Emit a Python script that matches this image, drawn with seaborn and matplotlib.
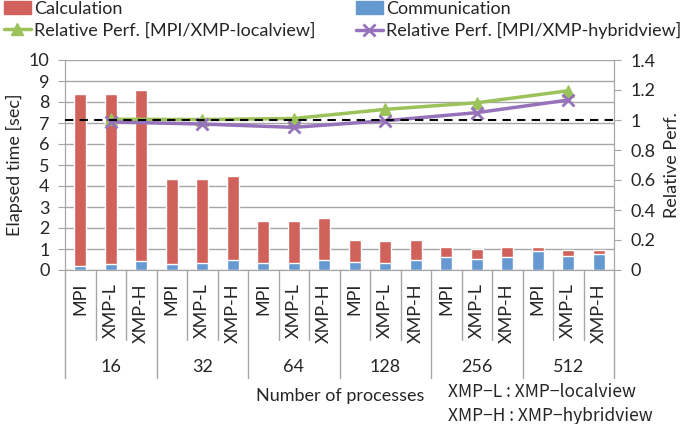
import numpy as np
import pandas as pd
import seaborn as sns
from matplotlib import pyplot as plt
from matplotlib.patches import Patch
from matplotlib.lines import Line2D

procs = ['16', '32', '64', '128', '256', '512']
impls = ['MPI', 'XMP-L', 'XMP-H']
calc = [8.17, 8.10, 8.15, 4.05, 3.99, 3.98, 2.00, 2.00, 1.98,
        1.03, 1.05, 0.95, 0.50, 0.51, 0.50, 0.21, 0.27, 0.20]
comm = [0.20, 0.27, 0.41, 0.27, 0.33, 0.48, 0.33, 0.33, 0.48,
        0.40, 0.32, 0.48, 0.60, 0.51, 0.60, 0.89, 0.68, 0.75]
rel_local = [1.005, 1.003, 1.01, 1.071, 1.115, 1.195]
rel_hybrid = [0.987, 0.973, 0.951, 0.995, 1.049, 1.133]

red = '#D0625B'
blue = '#6699CF'
green = '#9BC35A'
purple = '#9572BA'
grey = '#A6A6A6'

sns.set_style('white')
plt.rcParams['font.family'] = ['Lato', 'DejaVu Sans']
fs = 13

df = pd.DataFrame({
    'pos': np.arange(len(calc)),
    'total': np.array(calc) + np.array(comm),
    'comm': comm,
})
line_pos = [i * len(impls) + 1 for i in range(len(procs))]

fig = plt.figure(figsize=(6.85, 4.24), dpi=100)
ax = fig.add_axes([65 / 685, 1 - 270 / 424, 549 / 685, 210 / 424])
sns.barplot(data=df, x='pos', y='total', native_scale=True, width=0.4,
            color=red, saturation=1, ax=ax, zorder=2)
sns.barplot(data=df, x='pos', y='comm', native_scale=True, width=0.4,
            color=blue, saturation=1, ax=ax, zorder=3)
ax.set_xlim(-0.5, len(calc) - 0.5)
ax.set_ylim(0, 10)
ax.set_yticks(range(0, 11))
ax.yaxis.grid(True, color=grey, lw=1)
ax.set_axisbelow(True)
ax.set_xticks([])
ax.set_xlabel('')
ax.set_ylabel('Elapsed time [sec]', fontsize=fs, labelpad=4)
ax.tick_params(axis='y', labelsize=fs, left=True, length=5, color=grey, pad=6)
for s in ['left', 'bottom', 'right']:
    ax.spines[s].set_color(grey)
ax.spines['top'].set_visible(False)

ax2 = ax.twinx()
sns.lineplot(x=line_pos, y=rel_local, color=green, lw=2.5, marker='^',
             markersize=8, markeredgecolor=green, ax=ax2)
sns.lineplot(x=line_pos, y=rel_hybrid, color=purple, lw=2.5, marker='x',
             markersize=8, markeredgewidth=2, markeredgecolor=purple, ax=ax2)
ax2.axhline(1, color='black', ls='--', lw=1.5, dashes=(4, 3), zorder=3)
ax2.set_ylim(0, 1.4)
ax2.set_yticks(np.arange(0, 1.41, 0.2))
ax2.set_yticklabels(['0', '0.2', '0.4', '0.6', '0.8', '1', '1.2', '1.4'])
ax2.tick_params(axis='y', labelsize=fs, right=True, length=5, color=grey, pad=7)
ax2.set_ylabel('Relative Perf.', fontsize=fs, labelpad=6)
for s in ['left', 'bottom', 'right']:
    ax2.spines[s].set_color(grey)
ax2.spines['top'].set_visible(False)

# category axis with two levels
trans = ax.get_xaxis_transform()
for i in range(len(calc) + 1):
    low = -0.514 if i % len(impls) == 0 else -0.333
    ax.plot([i - 0.5, i - 0.5], [0, low], color=grey, lw=1,
            transform=trans, clip_on=False)
for i in range(len(calc)):
    ax.text(i, -0.062, impls[i % len(impls)], rotation=90, ha='center',
            va='top', fontsize=fs, transform=trans)
for g, p in enumerate(procs):
    ax.text(g * len(impls) + 1, -0.462, p, ha='center', va='center',
            fontsize=fs, transform=trans)

fig.text(340 / 685, 1 - 396 / 424, 'Number of processes', ha='center',
         va='center', fontsize=fs)
fig.text(448 / 685, 1 - 392 / 424, 'XMP−L : XMP−localview', ha='left',
         va='center', fontsize=12.5, family=['Noto Sans CJK JP', 'DejaVu Sans'])
fig.text(448 / 685, 1 - 416 / 424, 'XMP−H : XMP−hybridview', ha='left',
         va='center', fontsize=12.5, family=['Noto Sans CJK JP', 'DejaVu Sans'])

handles = [Patch(color=red),
           Line2D([], [], color=green, lw=2.5, marker='^', markersize=8),
           Patch(color=blue),
           Line2D([], [], color=purple, lw=2.5, marker='x', markersize=8,
                  markeredgewidth=2)]
labels = ['Calculation', 'Relative Perf. [MPI/XMP-localview]',
          'Communication', 'Relative Perf. [MPI/XMP-hybridview]']
fig.legend(handles, labels, ncol=2, loc='upper left',
           bbox_to_anchor=(-0.005, 1.015), frameon=False, fontsize=fs,
           handlelength=1.5, handletextpad=0.2, labelspacing=0.3,
           columnspacing=2.2, borderaxespad=0)

fig.savefig('out.png', dpi=100)
